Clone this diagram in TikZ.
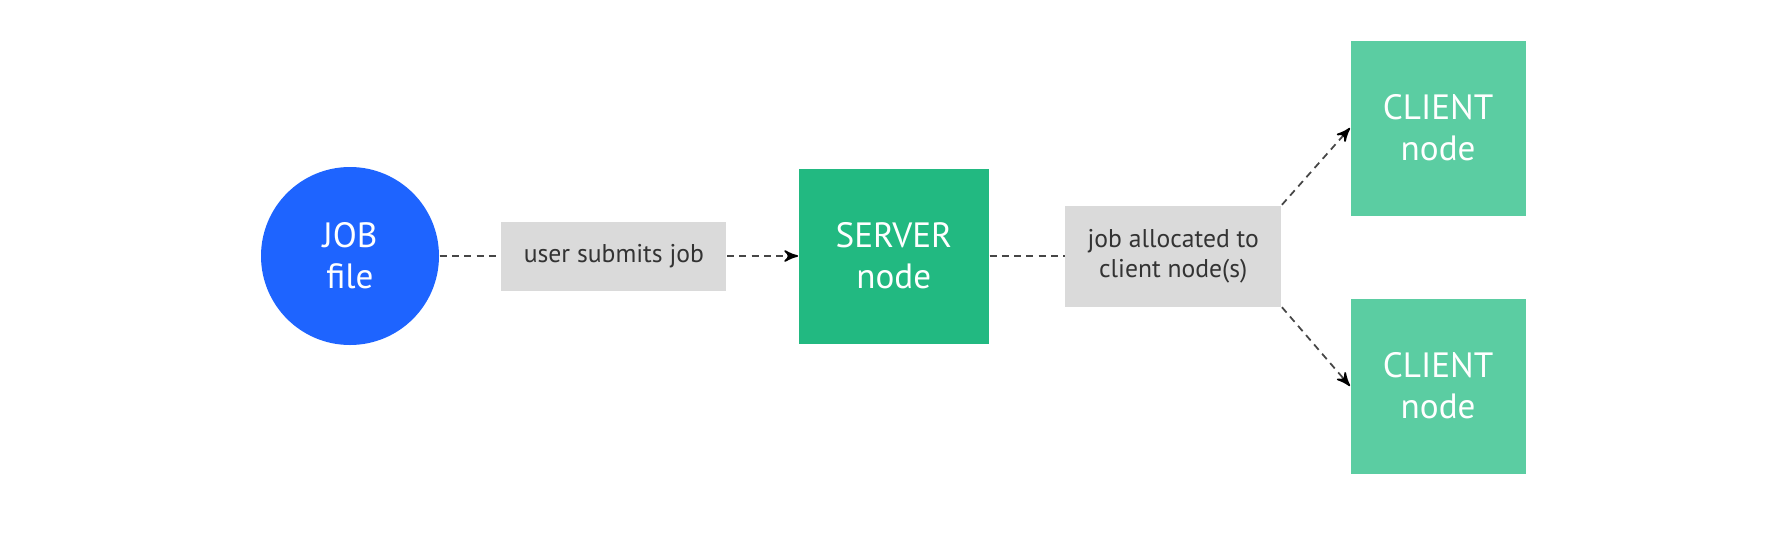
\documentclass[tikz,border=0pt]{standalone}
\usepackage{fontspec}
\setmainfont{PT Sans}
\usepackage{tikz}
\usetikzlibrary{positioning, arrows}
\definecolor{jobblue}{RGB}{30,100,255}
\definecolor{srvgreen}{RGB}{34,185,129}
\definecolor{clgreen}{RGB}{91,205,162}
\definecolor{lblgray}{RGB}{218,218,218}
\definecolor{linegray}{RGB}{70,70,70}
\tikzset{>=stealth',
every node/.style={inner sep=0pt, align=center},
file/.style={circle, fill=jobblue, text=white, minimum size=1.78cm, font=\fontsize{10}{11.6}\selectfont},
srvbox/.style={fill=srvgreen, text=white, minimum width=1.9cm, minimum height=1.75cm, font=\fontsize{10}{11.6}\selectfont},
clbox/.style={fill=clgreen, text=white, minimum size=1.75cm, font=\fontsize{10}{11.6}\selectfont},
lbl/.style={fill=lblgray, text=black!80, font=\fontsize{7.3}{8.4}\selectfont},
link/.style={draw=linegray, line width=0.5pt, dash pattern=on 2pt off 1.5pt}
}

\begin{document}
\begin{tikzpicture}
\useasboundingbox (0,0) rectangle (17.82,5.39);
\node[file] (job) at (3.50,2.83) {JOB\\file};
\node[lbl,right=0.61cm of job,minimum width=2.25cm,minimum height=0.69cm] (sub) {user submits job};
\node[srvbox,right=0.71cm of sub] (srv) {SERVER\\node};
\node[lbl,right=0.75cm of srv,minimum width=2.16cm,minimum height=1.01cm] (alloc) {job allocated to\\client node(s)};
\node[clbox,right=0.68cm of alloc,yshift=1.28cm] (cl1) {CLIENT\\node};
\node[clbox,right=0.68cm of alloc,yshift=-1.30cm] (cl2) {CLIENT\\node};
\draw[link] (job) -- (sub);
\draw[link,-{stealth'[black]}] (sub) -- (srv);
\draw[link] (srv) -- (alloc);
\draw[link,-{stealth'[black]}] (alloc.north east) -- (cl1.west);
\draw[link,-{stealth'[black]}] (alloc.south east) -- (cl2.west);
\end{tikzpicture}
\end{document}
